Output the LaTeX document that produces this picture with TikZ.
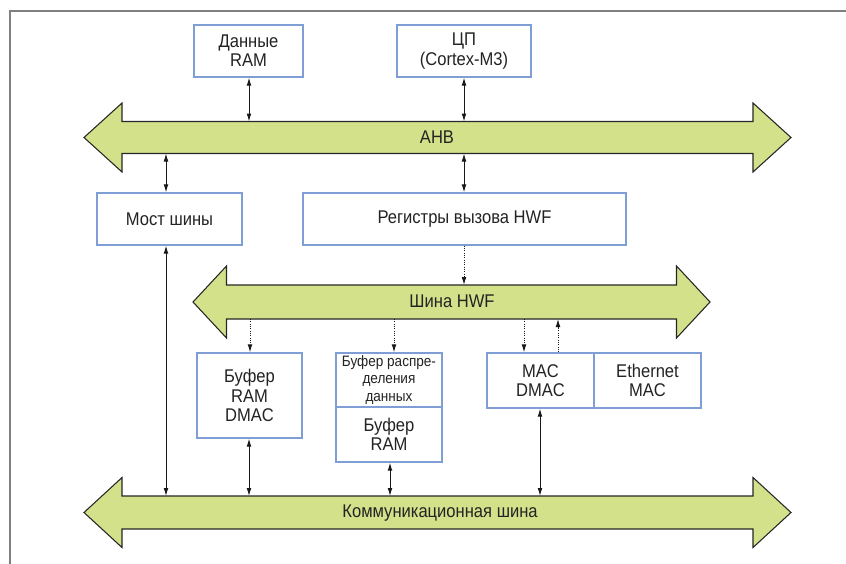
\documentclass[tikz,border=0pt]{standalone}
\usepackage{fontspec}
\setmainfont{Liberation Sans}[FakeStretch=0.9]
\usetikzlibrary{arrows.meta}
\definecolor{busgreen}{RGB}{211,225,138}
\definecolor{boxblue}{RGB}{128,158,214}
\definecolor{txt}{RGB}{35,35,35}
\newcommand{\busshape}[6]{%
  \draw[busstyle] (#1,#3) -- (#1+#6,#3-#5) -- (#1+#6,#3-#4) -- (#2-#6,#3-#4) -- (#2-#6,#3-#5) -- (#2,#3)
   -- (#2-#6,#3+#5) -- (#2-#6,#3+#4) -- (#1+#6,#3+#4) -- (#1+#6,#3+#5) -- cycle;}
\begin{document}
\begin{tikzpicture}[x=0.75pt,y=-0.75pt,
  busstyle/.style={fill=busgreen,draw=black!85,line width=0.8pt,line join=miter},
  blk/.style={draw=boxblue,line width=0.9pt,fill=white,inner sep=0pt,align=center,
     text=txt,font=\fontsize{13.8pt}{14.5pt}\selectfont},
  lbl/.style={text=txt,font=\fontsize{13.8pt}{14.5pt}\selectfont,inner sep=0pt},
  conn/.style={line width=0.75pt,black!90,{Latex[length=6pt,width=3.6pt]}-{Latex[length=6pt,width=3.6pt]}},
  dotd/.style={line width=0.75pt,black!90,densely dotted,-{Latex[length=6pt,width=3.6pt]}},
]
\useasboundingbox (0,0) rectangle (846,564);
% frame
\draw[black!50,line width=1.1pt] (10,564) -- (10,11) -- (846,11);

% buses
\busshape{84}{791}{137.5}{16}{34.5}{38}
\busshape{193}{710}{302}{17}{36}{33.5}
\busshape{84}{791}{512.5}{16.5}{35}{38}
\node[lbl] (ahb) at (437,137.5) {AHB};
\node[lbl] (hwfbus) at (452,301) {Шина HWF};
\node[lbl] (combus) at (440,513) {Коммуникационная шина};
\coordinate (ahbT) at (0,121.5);
\coordinate (ahbB) at (0,153.5);
\coordinate (hwfT) at (0,285);
\coordinate (hwfB) at (0,319);
\coordinate (comT) at (0,496);

% blocks
\node[blk,minimum width=81.75pt,minimum height=39pt] (dram) at (248.5,51) {Данные\\RAM};
\node[blk,minimum width=100.5pt,minimum height=39pt] (cpu) at (464,51) {ЦП\\(Cortex-M3)};
\node[blk,minimum width=108.75pt,minimum height=39pt] (bridge) at (169.5,219) {Мост шины};
\node[blk,minimum width=242.25pt,minimum height=39pt] (hwfreg) at (464.5,219) {Регистры вызова HWF};
\node[blk,minimum width=78.75pt,minimum height=63.75pt] (bufdmac) at (249.5,395.5) {Буфер\\RAM\\DMAC};
\node[blk,minimum width=79.5pt,minimum height=40.5pt,font=\fontsize{11.3pt}{12.8pt}\selectfont] (bufdist) at (389,380) {Буфер распре-\\деления\\данных};
\node[blk,minimum width=79.5pt,minimum height=41.25pt] (bufram) at (389,434.5) {Буфер\\RAM};
\node[blk,minimum width=80.25pt,minimum height=41.25pt] (macdmac) at (540.5,380.5) {MAC\\DMAC};
\node[blk,minimum width=80.25pt,minimum height=41.25pt] (ethmac) at (647.5,380.5) {Ethernet\\MAC};

% x positions of connectors
\coordinate (x166) at (166,0);
\coordinate (x249) at (249,0);
\coordinate (x250) at (250,0);
\coordinate (x390) at (390,0);
\coordinate (x394) at (394,0);
\coordinate (x464) at (464,0);
\coordinate (x524) at (524,0);
\coordinate (x540) at (540,0);
\coordinate (x558) at (558,0);

% solid connectors
\draw[conn] (x249 |- dram.south) -- (x249 |- ahbT);
\draw[conn] (x464 |- cpu.south) -- (x464 |- ahbT);
\draw[conn] (x166 |- ahbB) -- (x166 |- bridge.north);
\draw[conn] (x464 |- ahbB) -- (x464 |- hwfreg.north);
\draw[conn] (x166 |- bridge.south) -- (x166 |- comT);
\draw[conn] (x249 |- bufdmac.south) -- (x249 |- comT);
\draw[conn] (x390 |- bufram.south) -- (x390 |- comT);
\draw[conn] (x540 |- macdmac.south) -- (x540 |- comT);

% dotted connectors
\draw[dotd] (x464 |- hwfreg.south) -- (x464 |- hwfT);
\draw[dotd] (x250 |- hwfB) -- (x250 |- bufdmac.north);
\draw[dotd] (x394 |- hwfB) -- (x394 |- bufdist.north);
\draw[dotd] (x524 |- hwfB) -- (x524 |- macdmac.north);
\draw[dotd] (x558 |- macdmac.north) -- (x558 |- hwfB);
\end{tikzpicture}
\end{document}
